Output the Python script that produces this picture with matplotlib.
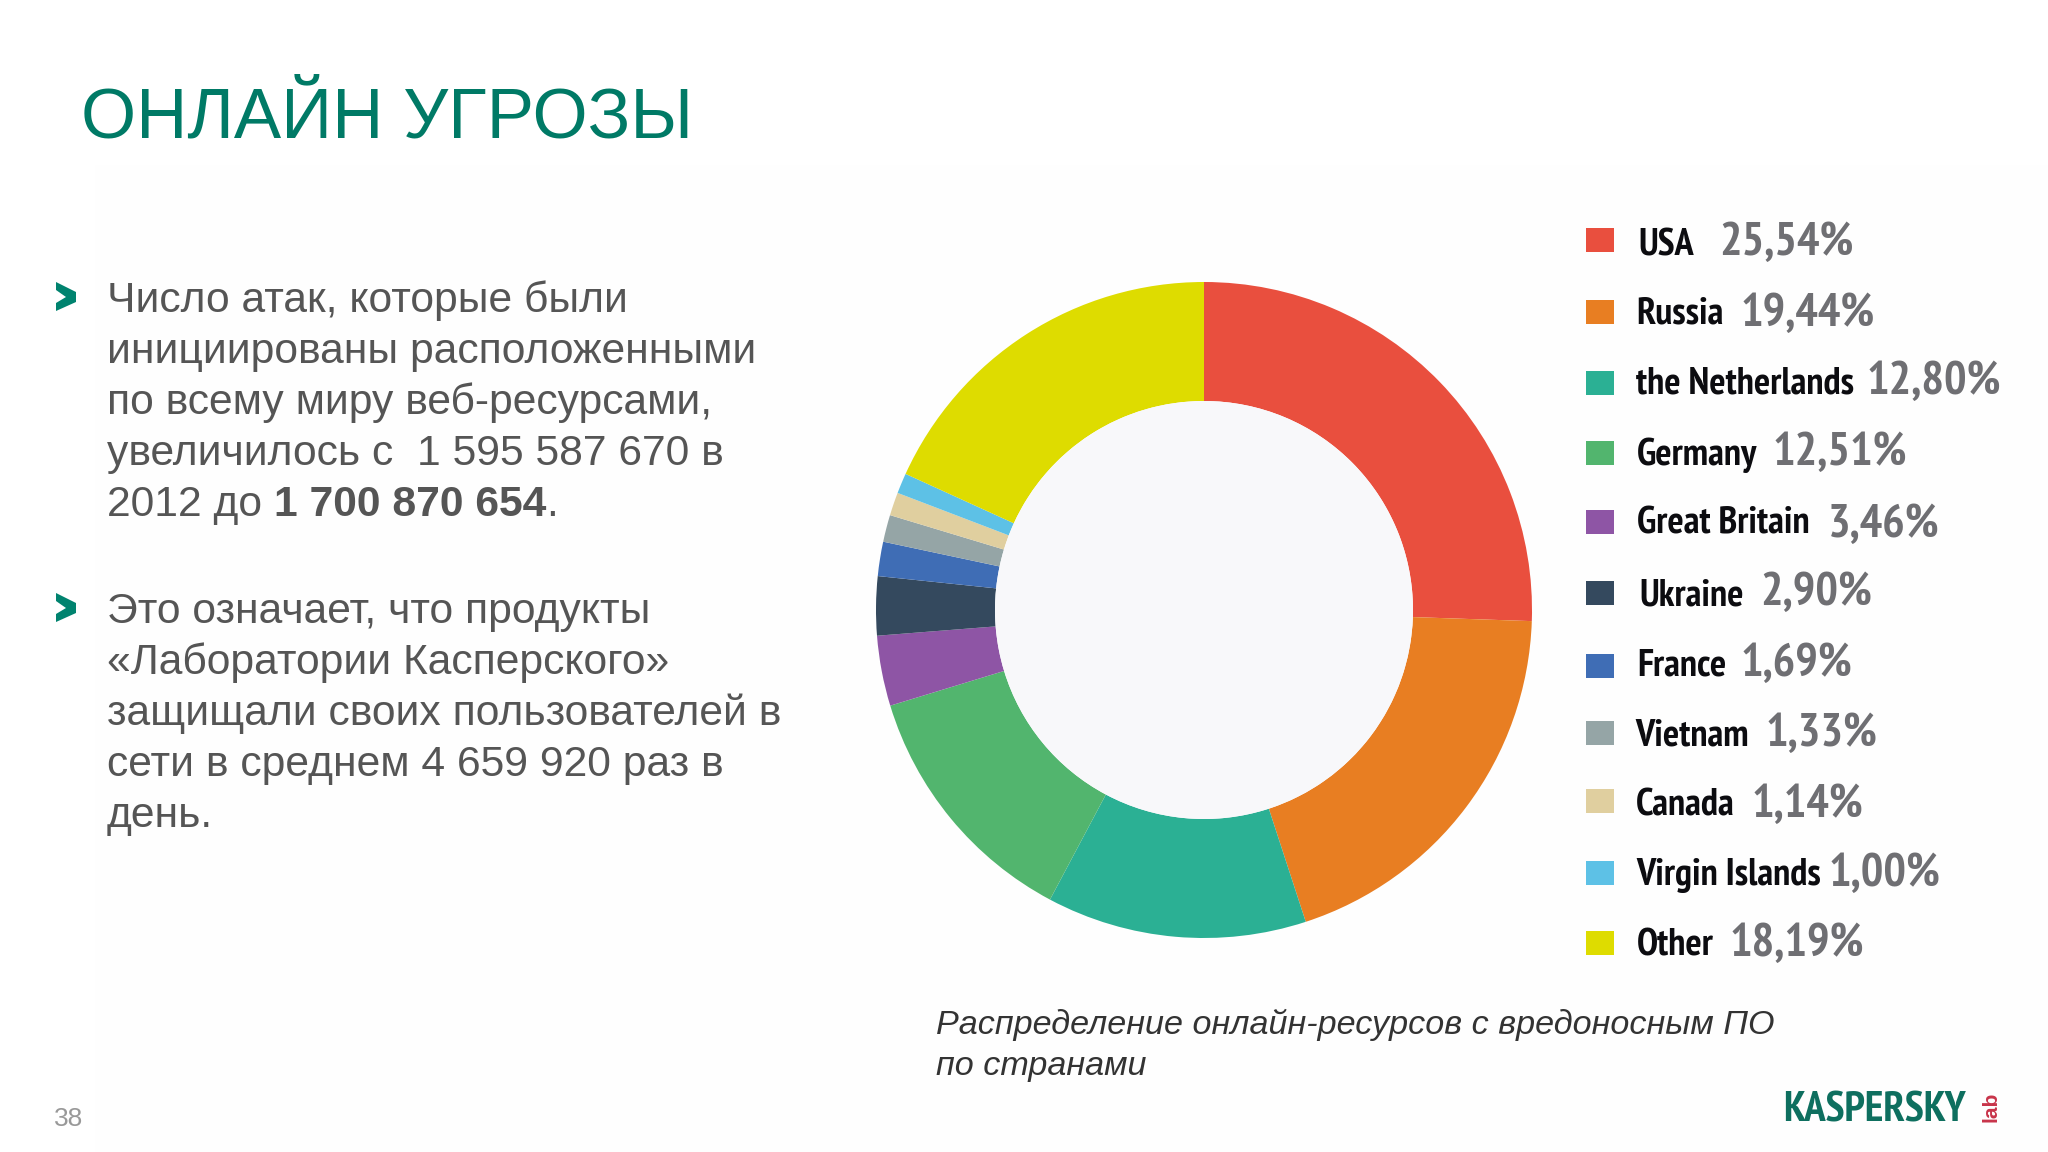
import matplotlib
matplotlib.use("Agg")
import matplotlib.pyplot as plt
from matplotlib import font_manager as fm
from matplotlib.patches import Polygon, Rectangle, Circle
from matplotlib.patheffects import AbstractPathEffect
from matplotlib.transforms import Affine2D

# Data
countries = ["USA", "Russia", "the Netherlands", "Germany", "Great Britain", "Ukraine",
             "France", "Vietnam", "Canada", "Virgin Islands", "Other"]
shares = [25.54, 19.44, 12.80, 12.51, 3.46, 2.90, 1.69, 1.33, 1.14, 1.00, 18.19]
share_labels = ["25,54%", "19,44%", "12,80%", "12,51%", "3,46%", "2,90%",
                "1,69%", "1,33%", "1,14%", "1,00%", "18,19%"]
colors = ["#E94F3E", "#E87E22", "#2BB094", "#52B56E", "#8E55A5", "#34495E",
          "#3F6DB5", "#95A5A6", "#E0CF9F", "#5DC1E6", "#DEDC00"]

# Layout (pixels)
W, H = 2048, 1152
swatch_top = [228, 300, 371, 441, 510, 581, 654, 721, 789, 861, 931]
name_base = [255, 324, 394, 465, 534, 605, 675, 745, 815, 885, 955]
value_base = [255, 326, 394, 465, 537, 605, 676, 746, 817, 886, 956]
name_x = [1638, 1636, 1636, 1637, 1637, 1639, 1637, 1635, 1636, 1636, 1637]
value_x = [1719, 1741, 1867, 1773, 1828, 1760, 1741, 1766, 1752, 1829, 1730]

SANS = ["Liberation Sans", "DejaVu Sans"]


class Squeeze(AbstractPathEffect):
    """Narrows a text horizontally about its own origin."""

    def __init__(self, sx):
        super().__init__()
        self.sx = sx

    def draw_path(self, renderer, gc, tpath, affine, rgbFace=None):
        renderer.draw_path(gc, tpath, Affine2D().scale(self.sx, 1) + affine, rgbFace)


# Use a real narrow face when there is one; otherwise narrow the regular face.
installed = {f.name for f in fm.fontManager.ttflist}
if "PT Sans Narrow" in installed:
    NARROW = ["PT Sans Narrow", "Liberation Sans"]
    name_fx, value_fx, logo_fx = [], [], []
else:
    NARROW = SANS
    name_fx, value_fx, logo_fx = [Squeeze(0.77)], [Squeeze(0.86)], [Squeeze(0.70)]

fig = plt.figure(figsize=(W / 100, H / 100), dpi=100, facecolor="white")
page = fig.add_axes([0, 0, 1, 1])
page.set_xlim(0, W)
page.set_ylim(H, 0)
page.axis("off")

page.add_patch(Rectangle((95, 165), W - 95, H - 165, color="#FEFEFE", lw=0, zorder=0))

# Title
page.text(81, 138, "ОНЛАЙН УГРОЗЫ", family=SANS, fontsize=51, color="#007A66", va="baseline")

# Body text
TXT = "#555555"
para1 = ["Число атак, которые были", "инициированы расположенными",
         "по всему миру веб-ресурсами,", "увеличилось с  1 595 587 670 в"]
para2 = ["Это означает, что продукты", "«Лаборатории Касперского»",
         "защищали своих пользователей в", "сети в среднем 4 659 920 раз в", "день."]
FS = 30.7
for i, line in enumerate(para1):
    page.text(107, 312 + i * 51, line, family=SANS, fontsize=FS, color=TXT)
for i, line in enumerate(para2):
    page.text(107, 623 + i * 51, line, family=SANS, fontsize=FS, color=TXT)

# Mixed-weight line
fig.canvas.draw()
r = fig.canvas.get_renderer()
x = 107
for s, w in [("2012 до ", "normal"), ("1 700 870 654", "bold"), (".", "normal")]:
    page.text(x, 516, s, family=SANS, fontsize=FS, color=TXT, weight=w)
    probe = page.text(0, 0, s.replace(" ", "\u00a0"), family=SANS, fontsize=FS, weight=w)
    x += probe.get_window_extent(r).width
    probe.remove()

# Chevrons
for y in (297, 608):
    page.add_patch(Polygon([(56, y - 15), (76, y - 5), (76, y + 5), (56, y + 14),
                            (56, y + 6), (66, y), (56, y - 7)],
                           closed=True, color="#00836F", lw=0))

# Donut
cx, cy, R = 1204, 610, 328
ax = fig.add_axes([(cx - R) / W, 1 - (cy + R) / H, 2 * R / W, 2 * R / H])
ax.pie(shares, colors=colors, startangle=90, counterclock=False, radius=1,
       wedgeprops=dict(width=1 - 209 / 328, linewidth=0))
ax.add_patch(Circle((0, 0), 209 / 328, color="#F8F8FA", lw=0))
ax.set_xlim(-1, 1)
ax.set_ylim(-1, 1)
ax.patch.set_alpha(0)

# Legend
for i, name in enumerate(countries):
    page.add_patch(Rectangle((1586, swatch_top[i]), 28, 24, color=colors[i], lw=0))
    page.text(name_x[i], name_base[i], name, family=NARROW, weight="bold", fontsize=27.5,
              color="#0C0C10", path_effects=name_fx)
    page.text(value_x[i], value_base[i], share_labels[i], family=NARROW, weight="bold", fontsize=34,
              color="#6F6F73", path_effects=value_fx)

# Caption
page.text(936, 1034, "Распределение онлайн-ресурсов с вредоносным ПО", family=SANS, style="italic",
          fontsize=24.6, color="#333333")
page.text(936, 1075, "по странами", family=SANS, style="italic", fontsize=24.6, color="#333333")

# Page number and logo
page.text(54, 1126, "38", family=SANS, fontsize=19, color="#999999")
page.text(1783, 1122, "KASPERSKY", family=NARROW, weight="bold", fontsize=31, color="#0E6F5F",
          path_effects=logo_fx)
page.text(1997, 1122, "lab", family=SANS, weight="bold", fontsize=15, color="#C8344A",
          rotation=90, ha="left", va="baseline", rotation_mode="anchor")

fig.savefig("out.png", dpi=100)
